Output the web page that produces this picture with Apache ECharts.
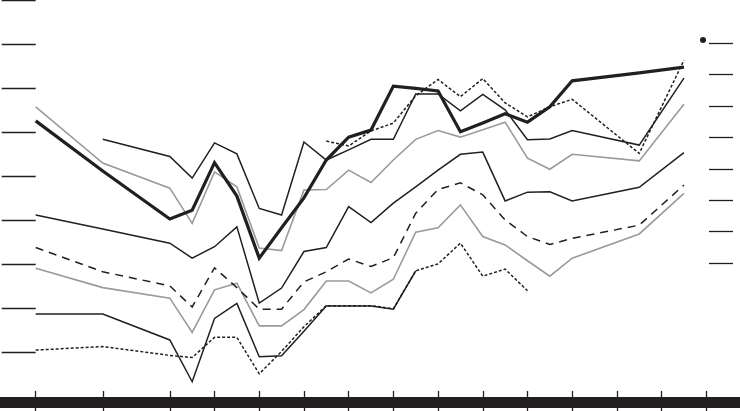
<!DOCTYPE html>
<html>
<head>
<meta charset="utf-8">
<script src="https://cdn.jsdelivr.net/npm/echarts@6/dist/echarts.min.js"></script>
<style>
html,body{margin:0;padding:0;background:#fff;}
#chart{width:740px;height:411px;}
</style>
</head>
<body>
<div id="chart"></div>
<script>
// x positions (time steps) of the observations
const xValues = [0, 1.5, 3, 3.5, 4, 4.5, 5, 5.5, 6, 6.5, 7, 7.5, 8, 8.5, 9, 9.5, 10, 10.5, 11, 11.5, 12, 13.5, 14.5];
// bottom axis tick positions
const xTicks = [0, 1.5, 3, 4, 5, 6, 7, 8, 9, 10, 11, 12, 13, 14, 15];
// left and right axis tick values (labels not shown in the original)
const leftTicks = [0, 10, 20, 30, 40, 50, 60, 70, 80];
const rightTicks = [0, 1, 2, 3, 4, 5, 6, 7];

// series values (left-axis units)
const thickBlack = [52.6, 41.2, 30.3, 32.3, 43.1, 35.5, 21.4, 28.3, 35.1, 43.7, 48.9, 50.5, 60.5, 60.0, 59.4, 50.1, 52.1, 54.2, 52.3, 55.8, 61.7, 63.5, 64.8];
const grayUpper = [55.8, 43.0, 37.3, 29.3, 41.0, 37.6, 23.7, 23.1, 36.9, 37.0, 41.4, 38.6, 43.7, 48.4, 50.4, 48.9, 50.6, 52.3, 44.1, 41.6, 45.0, 43.5, 56.4];
const blackUpper = [null, 48.4, 44.5, 39.6, 47.6, 45.1, 32.7, 31.2, 47.8, 43.7, 46.0, 48.4, 48.4, 58.7, 58.7, 54.9, 58.6, 55.1, 48.3, 48.5, 50.4, 47.1, 62.3];
const dottedUpper = [null, null, null, null, null, null, null, null, null, 48.0, 46.9, 50.3, 52.1, 58.3, 62.0, 58.1, 62.2, 56.7, 53.5, 55.8, 57.5, 45.2, 66.4];
const blackMiddle = [31.2, 28.0, 24.8, 21.4, 24.0, 28.5, 11.2, 14.6, 22.9, 23.8, 33.1, 29.5, 33.9, 37.6, 41.4, 45.0, 45.5, 34.4, 36.4, 36.5, 34.4, 37.5, 45.4];
const dashedMiddle = [23.8, 18.3, 15.1, 10.3, 19.2, 14.7, 9.8, 9.8, 16.0, 18.3, 21.2, 19.5, 21.5, 31.6, 37.0, 38.5, 35.8, 30.1, 26.3, 24.5, 25.9, 28.9, 38.0];
const grayLower = [19.1, 14.7, 12.3, 4.5, 14.2, 15.7, 6.0, 6.0, 9.7, 16.2, 16.2, 13.5, 16.6, 27.3, 28.3, 33.5, 26.3, 24.4, 20.8, 17.3, 21.4, 26.9, 36.1];
const blackLower = [8.7, 8.7, 2.8, -6.7, 7.7, 11.1, -1.0, -0.8, 4.8, 10.5, 10.5, 10.5, 9.8, 18.5, null, null, null, null, null, null, null, null, null];
const dottedLower = [0.5, 1.3, -0.7, -1.2, 3.4, 3.4, -4.9, 0.2, 5.8, 10.6, 10.6, 10.6, 9.9, 18.5, 20.1, 24.8, 17.3, 18.9, 14.0, null, null, null, null];

const INK = '#231f20';
const GRAY = '#9a9a9a';

function pairs(vals) {
  const out = [];
  vals.forEach((v, i) => { if (v !== null) out.push([xValues[i], v]); });
  return out;
}
function line(name, vals, color, width, type) {
  return {
    name: name, type: 'line', data: pairs(vals),
    xAxisIndex: 0, yAxisIndex: 0,
    showSymbol: false, symbol: 'none', animation: false,
    lineStyle: { color: color, width: width, type: type || 'solid', cap: 'butt', join: 'miter' },
    emphasis: { disabled: true }
  };
}

const chart = echarts.init(document.getElementById('chart'), null, { renderer: 'canvas' });
const option = {
  backgroundColor: '#ffffff',
  animation: false,
  grid: { left: 0, right: 0, top: 0, bottom: 9, containLabel: false },
  xAxis: [
    {
      type: 'value', position: 'bottom', min: -0.7985, max: 15.754,
      axisLine: { show: true, onZero: false, lineStyle: { color: INK, width: 11 } },
      axisTick: { show: true, inside: false, length: 9, customValues: xTicks, lineStyle: { color: INK, width: 1.3 } },
      axisLabel: { show: false }, splitLine: { show: false }
    },
    {
      type: 'value', position: 'bottom', min: -0.7985, max: 15.754,
      axisLine: { show: false, onZero: false },
      axisTick: { show: true, inside: true, length: 11, customValues: xTicks, lineStyle: { color: INK, width: 1.3 } },
      axisLabel: { show: false }, splitLine: { show: false }
    }
  ],
  yAxis: [
    {
      type: 'value', position: 'left', offset: -35.7, min: -11.3, max: 80.07,
      axisLine: { show: false, onZero: false },
      axisTick: { show: true, inside: false, length: 34, customValues: leftTicks, lineStyle: { color: INK, width: 1.3 } },
      axisLabel: { show: false }, splitLine: { show: false }
    },
    {
      type: 'value', position: 'right', offset: -31, min: -4.428, max: 8.379,
      axisLine: { show: false, onZero: false },
      axisTick: { show: true, inside: false, length: 24, customValues: rightTicks, lineStyle: { color: INK, width: 1.3 } },
      axisLabel: { show: false }, splitLine: { show: false }
    }
  ],
  graphic: [
    { type: 'circle', shape: { cx: 703, cy: 40, r: 3 }, style: { fill: INK }, silent: true }
  ],
  series: [
    line('grayUpper', grayUpper, GRAY, 1.6),
    line('grayLower', grayLower, GRAY, 1.6),
    line('blackLower', blackLower, INK, 1.5),
    line('blackMiddle', blackMiddle, INK, 1.5),
    line('blackUpper', blackUpper, INK, 1.5),
    line('dashedMiddle', dashedMiddle, INK, 1.5, [8, 6]),
    line('dottedLower', dottedLower, INK, 1.5, [3, 2]),
    line('dottedUpper', dottedUpper, INK, 1.5, [3, 2]),
    line('thickBlack', thickBlack, INK, 3.2)
  ]
};
chart.setOption(option);
</script>
</body>
</html>
